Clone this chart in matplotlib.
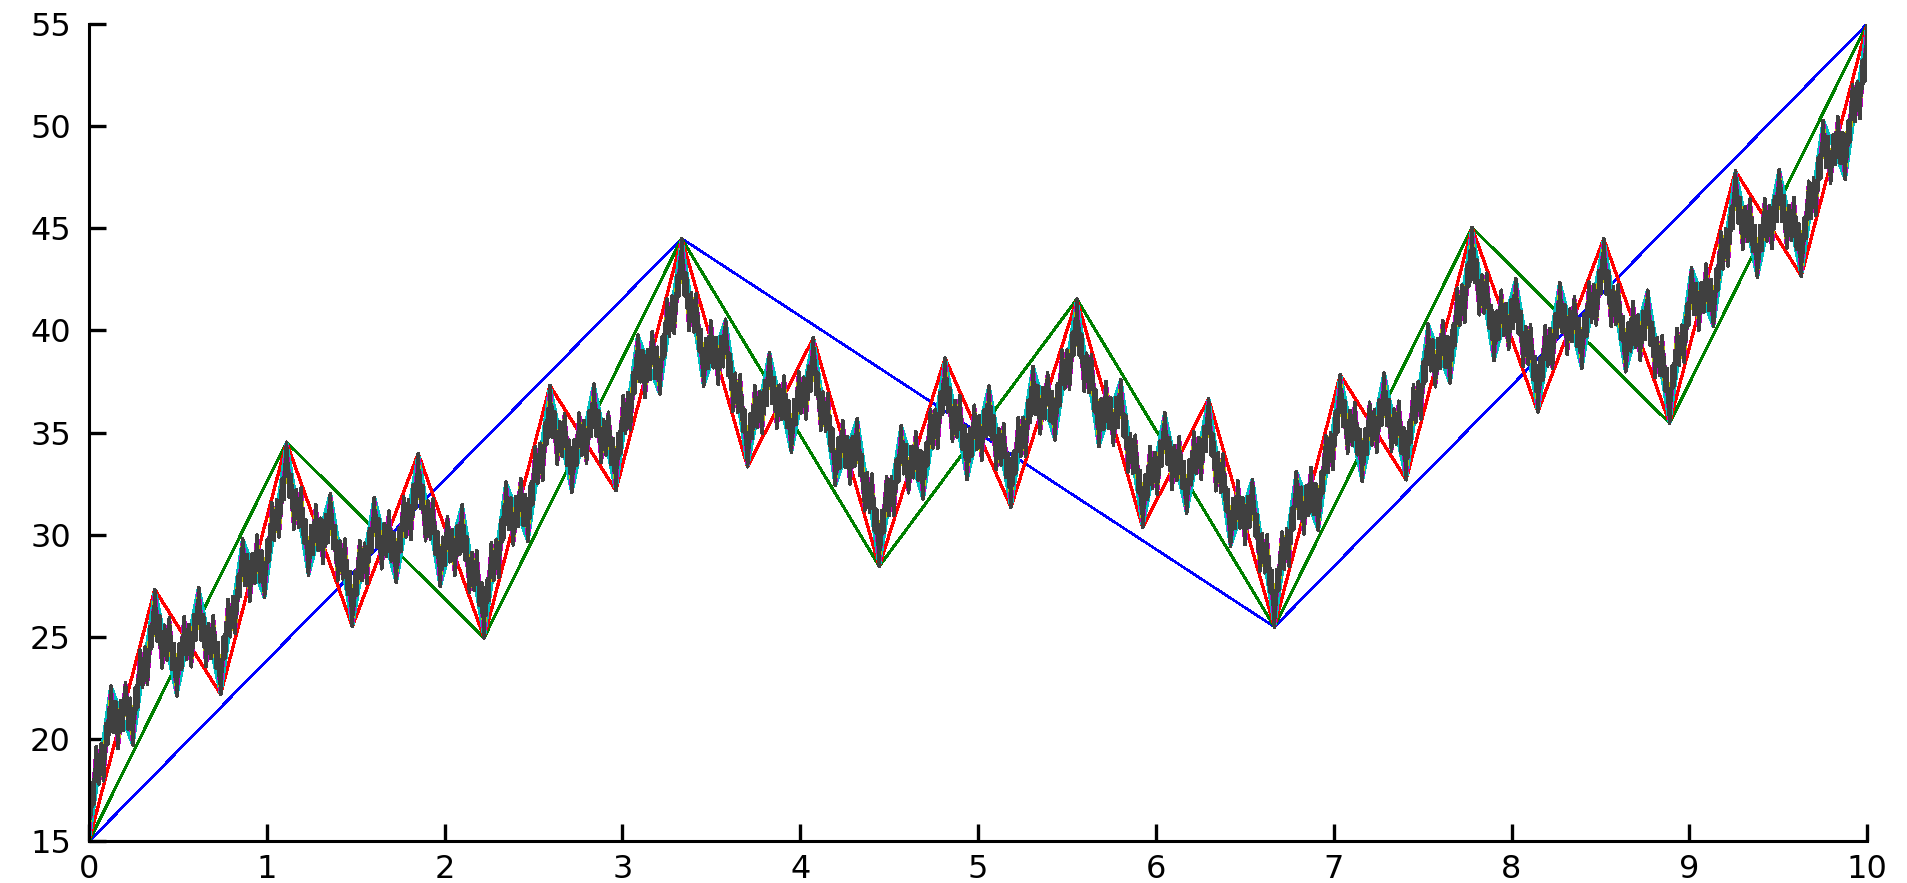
"""
Fractal interpolation curve, levels 1..7 drawn on top of each other
"""
import numpy as np
import matplotlib
matplotlib.use("Agg")
import matplotlib.pyplot as plt

plt.rcParams['font.family'] = ['DejaVu Sans']

# base vertices read from the blue polyline
BASE_X = [0.0, 10 / 3, 20 / 3, 10.0]
BASE_Y = [15.0, 44.5, 25.5, 55.0]
# vertical scaling of each of the three maps (read from the green level)
SCALE_D = [0.6, -0.6, 0.6]
# old matlab colour order, one per level
LEVEL_COLORS = [(0, 0, 1), (0, 0.5, 0), (1, 0, 0), (0, 0.75, 0.75),
                (0.75, 0, 0.75), (0.75, 0.75, 0), (0.25, 0.25, 0.25)]
LEVEL_WIDTHS = [1.1, 1.4, 1.6, 1.8, 1.8, 1.8, 2.0]

X_TICKS = [0, 1, 2, 3, 4, 5, 6, 7, 8, 9, 10]
Y_TICKS = [15, 20, 25, 30, 35, 40, 45, 50, 55]


def next_level(px, py):
    x0, xn = BASE_X[0], BASE_X[-1]
    y0, yn = BASE_Y[0], BASE_Y[-1]
    chord = y0 + (px - x0) * (yn - y0) / (xn - x0)
    dev = py - chord
    t = (px - x0) / (xn - x0)
    xs, ys = [], []
    for i in range(len(BASE_X) - 1):
        nx = BASE_X[i] + t * (BASE_X[i + 1] - BASE_X[i])
        ny = BASE_Y[i] + t * (BASE_Y[i + 1] - BASE_Y[i]) + SCALE_D[i] * dev
        if i > 0:
            nx, ny = nx[1:], ny[1:]
        xs.append(nx)
        ys.append(ny)
    return np.concatenate(xs), np.concatenate(ys)


def main():
    fig = plt.figure(figsize=(19.08, 8.83), dpi=100)
    ax = fig.add_axes([0.0466, 0.047, 0.932, 0.926])

    px = np.array(BASE_X)
    py = np.array(BASE_Y)
    for color, lw in zip(LEVEL_COLORS, LEVEL_WIDTHS):
        ax.plot(px, py, color=color, lw=lw, antialiased=False)
        px, py = next_level(px, py)

    ax.set_xlim(0, 10)
    ax.set_ylim(15, 55)
    ax.set_xticks(X_TICKS)
    ax.set_yticks(Y_TICKS)
    ax.spines['top'].set_visible(False)
    ax.spines['right'].set_visible(False)
    for s in ['left', 'bottom']:
        ax.spines[s].set_linewidth(2.2)
    ax.tick_params(direction='in', length=12, width=2.4, labelsize=23)
    ax.tick_params(axis='y', pad=13)
    ax.tick_params(axis='x', pad=9)

    fig.savefig("out.png", dpi=100)


if __name__ == "__main__":
    main()
